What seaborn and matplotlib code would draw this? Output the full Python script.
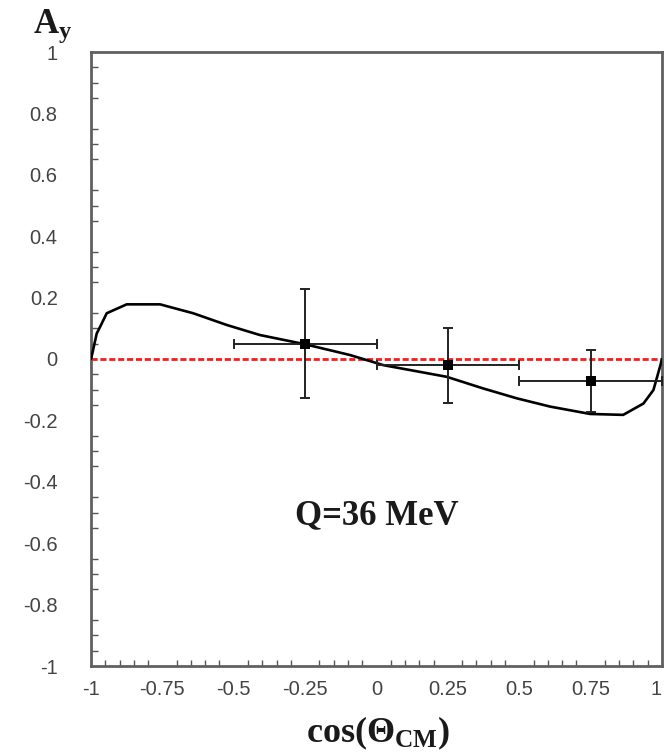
import matplotlib
matplotlib.use("Agg")
import matplotlib.pyplot as plt
from matplotlib.ticker import MultipleLocator, FuncFormatter
import seaborn as sns
import pandas as pd

# Theoretical analyzing power curve
theory_x = [-1.0, -0.998, -0.98, -0.968, -0.945, -0.875, -0.758, -0.642, -0.525,
            -0.408, -0.25, -0.093, 0.024, 0.246, 0.374, 0.491, 0.608, 0.748,
            0.864, 0.935, 0.97, 0.993, 1.0]
theory_y = [0.0, 0.007, 0.083, 0.105, 0.149, 0.178, 0.178, 0.149, 0.111,
            0.078, 0.048, 0.013, -0.020, -0.058, -0.096, -0.128, -0.155, -0.179,
            -0.182, -0.145, -0.101, -0.025, 0.0]

# Measured points
meas_x = [-0.25, 0.25, 0.75]
meas_y = [0.05, -0.02, -0.072]
meas_xerr = [0.25, 0.25, 0.25]
meas_yerr = [0.178, 0.122, 0.1]

x_ticks = [-1, -0.75, -0.5, -0.25, 0, 0.25, 0.5, 0.75, 1]
y_ticks = [-1, -0.8, -0.6, -0.4, -0.2, 0, 0.2, 0.4, 0.6, 0.8, 1]

sns.set_theme(style="white")
plt.rcParams["font.family"] = ["Liberation Sans", "DejaVu Sans"]
plt.rcParams["axes.unicode_minus"] = False
plt.rcParams["mathtext.fontset"] = "custom"
plt.rcParams["mathtext.rm"] = "Liberation Serif"
plt.rcParams["mathtext.bf"] = "Liberation Serif:bold"
plt.rcParams["mathtext.it"] = "Liberation Serif:italic"

fig = plt.figure(figsize=(6.66, 7.55), dpi=100)
ax = fig.add_axes([91 / 666, 89 / 755, 571 / 666, 614 / 755])

theory = pd.DataFrame({"x": theory_x, "y": theory_y})
meas = pd.DataFrame({"x": meas_x, "y": meas_y})

# zero reference line
ax.plot([-1, 1], [0, 0], color="#ff1a1a", lw=2.0, dashes=(2.2, 1.0), zorder=2)

sns.lineplot(data=theory, x="x", y="y", sort=False, color="black", lw=1.9,
             ax=ax, zorder=3)

ax.errorbar(meas_x, meas_y, xerr=meas_xerr, yerr=meas_yerr, fmt="none",
            ecolor="#222222", elinewidth=1.4, capsize=3.5, capthick=1.4, zorder=4)
sns.scatterplot(data=meas, x="x", y="y", marker="s", s=60, color="black",
                edgecolor="black", linewidth=0, ax=ax, zorder=5)

ax.set_xlim(-1, 1)
ax.set_ylim(-1, 1)
ax.set_xticks(x_ticks)
ax.set_yticks(y_ticks)
ax.xaxis.set_minor_locator(MultipleLocator(0.05))
ax.yaxis.set_minor_locator(MultipleLocator(0.05))
fmt = FuncFormatter(lambda v, p: "%g" % round(v, 2))
ax.xaxis.set_major_formatter(fmt)
ax.yaxis.set_major_formatter(fmt)

ax.tick_params(axis="both", which="both", direction="in", color="#555555",
               labelcolor="#444444", labelsize=14.5)
ax.tick_params(axis="y", which="major", length=8, width=1.2, pad=24)
ax.tick_params(axis="y", which="minor", length=5, width=1.0, left=True)
ax.tick_params(axis="x", which="major", length=7, width=1.2, pad=10)
ax.tick_params(axis="x", which="minor", length=4, width=1.0, bottom=True)

# keep the last x label inside the canvas
fig.canvas.draw()
ax.get_xticklabels()[-1].set_horizontalalignment("right")

for side in ["left", "right", "top", "bottom"]:
    ax.spines[side].set_visible(True)
    ax.spines[side].set_color("#606060")
    ax.spines[side].set_linewidth(2.0)

ax.set_xlabel("")
ax.set_ylabel("")

ax.text(0.0, -0.51, "Q=36 MeV", family="Liberation Serif", weight="bold",
        fontsize=25, ha="center", va="center", color="#1a1a1a")

fig.text(378 / 666, 1 - 733 / 755, r"$\mathbf{cos(\Theta_{CM})}$",
         fontsize=26, ha="center", va="center", color="#1a1a1a")
fig.text(33 / 666, 1 - 33 / 755, r"$\mathbf{A_y}$", fontsize=25,
         ha="left", va="baseline", color="#1a1a1a")

fig.savefig("out.png", dpi=100)
